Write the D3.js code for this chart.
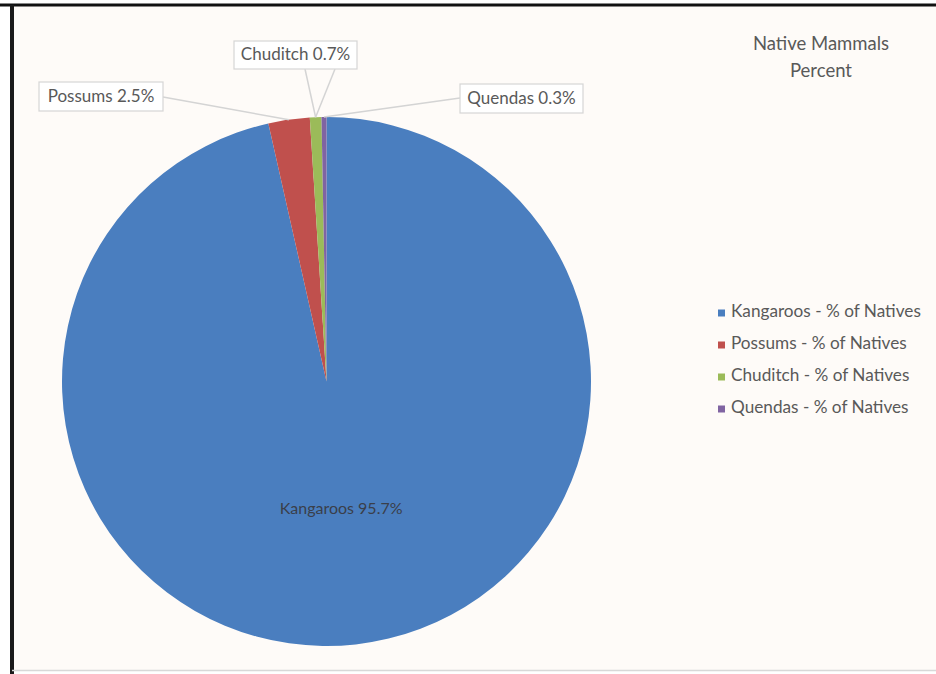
<!DOCTYPE html>
<html>
<head>
<meta charset="utf-8">
<script src="https://cdn.jsdelivr.net/npm/d3@7"></script>
<style>
  html, body { margin: 0; padding: 0; background: #ffffff; }
  svg { display: block; }
  text { font-family: Lato, "Open Sans", sans-serif; }
</style>
</head>
<body>
<svg id="chart" width="936" height="674"></svg>
<script>
// Share of native mammals recorded
const categories = ["Kangaroos", "Possums", "Chuditch", "Quendas"];
const percents = [95.7, 2.5, 0.7, 0.3];
const legendSuffix = " - % of Natives";
const titleLines = ["Native Mammals", "Percent"];
const colors = ["#4a7ebf", "#c0504d", "#9bbb59", "#8064a2"];

const W = 936, H = 674;
const svg = d3.select("#chart");

// chart area background and frame
svg.append("rect").attr("x", 0).attr("y", 0).attr("width", W).attr("height", H).attr("fill", "#ffffff");
svg.append("rect").attr("x", 12).attr("y", 5).attr("width", W - 12).attr("height", 665).attr("fill", "#fefbf8");
svg.append("line").attr("x1", 0).attr("x2", W).attr("y1", 5).attr("y2", 5)
  .attr("stroke", "#111").attr("stroke-width", 3);
svg.append("line").attr("x1", 12).attr("x2", 12).attr("y1", 5).attr("y2", H)
  .attr("stroke", "#1a1a1a").attr("stroke-width", 4);
svg.append("line").attr("x1", 12).attr("x2", W).attr("y1", 670.5).attr("y2", 670.5)
  .attr("stroke", "#d8d8d8").attr("stroke-width", 1.5);

// pie geometry
const cx = 326.5, cy = 381.5, R = 264.5;
const pie = d3.pie().sort(null).value(d => d.value);
const data = categories.map((c, i) => ({ name: c, value: percents[i], color: colors[i] }));
const arcs = pie(data);
const arc = d3.arc().innerRadius(0).outerRadius(R);

const g = svg.append("g").attr("transform", `translate(${cx},${cy})`);
g.selectAll("path.slice").data(arcs).enter().append("path")
  .attr("class", "slice")
  .attr("d", arc)
  .attr("fill", d => d.data.color)
  .attr("stroke", "none");

// point on the rim at a slice's middle angle
function rimPoint(a, r) {
  const m = (a.startAngle + a.endAngle) / 2;
  return [cx + r * Math.sin(m), cy - r * Math.cos(m)];
}

// inside label for the large slice
const big = arcs[0];
const c0 = arc.centroid(big);
svg.append("text")
  .attr("x", cx + c0[0]).attr("y", cy + c0[1] - 3)
  .attr("text-anchor", "middle").attr("dominant-baseline", "middle")
  .attr("font-size", 16).attr("fill", "#3a3f4a")
  .text(`${big.data.name} ${d3.format(".1f")(big.data.value)}%`);

// callout labels for the small slices
const callouts = [
  { i: 1, box: [39, 82, 124, 29], from: [[163, 97]] },
  { i: 2, box: [234, 41, 123, 28], from: [[305, 69], [335, 69]] },
  { i: 3, box: [460, 84, 123, 29], from: [[460, 98]] }
];
const lineColor = "#d4d4d4";
callouts.forEach(c => {
  const a = arcs[c.i];
  const p = rimPoint(a, R);
  c.from.forEach(f => {
    svg.append("line")
      .attr("x1", f[0]).attr("y1", f[1]).attr("x2", p[0]).attr("y2", p[1])
      .attr("stroke", lineColor).attr("stroke-width", 1.5);
  });
  svg.append("rect")
    .attr("x", c.box[0]).attr("y", c.box[1]).attr("width", c.box[2]).attr("height", c.box[3])
    .attr("fill", "#ffffff").attr("stroke", "#d6d6d6").attr("stroke-width", 1.2);
  svg.append("text")
    .attr("x", c.box[0] + c.box[2] / 2).attr("y", c.box[1] + c.box[3] / 2 + 1)
    .attr("text-anchor", "middle").attr("dominant-baseline", "middle")
    .attr("font-size", 17).attr("fill", "#595959")
    .text(`${a.data.name} ${d3.format(".1f")(a.data.value)}%`);
});

// title
svg.append("text")
  .attr("x", 821).attr("y", 45).attr("text-anchor", "middle").attr("dominant-baseline", "middle")
  .attr("font-size", 18.5).attr("fill", "#595959")
  .selectAll("tspan").data(titleLines).enter().append("tspan")
  .attr("x", 821).attr("dy", (d, i) => i === 0 ? 0 : 27)
  .text(d => d);

// legend
const ly = d3.scalePoint().domain(categories).range([313, 409]);
const lg = svg.append("g");
categories.forEach((c, i) => {
  lg.append("rect").attr("x", 718).attr("y", ly(c) - 3.5).attr("width", 7).attr("height", 7)
    .attr("fill", colors[i]);
  lg.append("text").attr("x", 731).attr("y", ly(c)).attr("dominant-baseline", "middle")
    .attr("font-size", 17.2).attr("fill", "#595959")
    .text(c + legendSuffix);
});
</script>
</body>
</html>
